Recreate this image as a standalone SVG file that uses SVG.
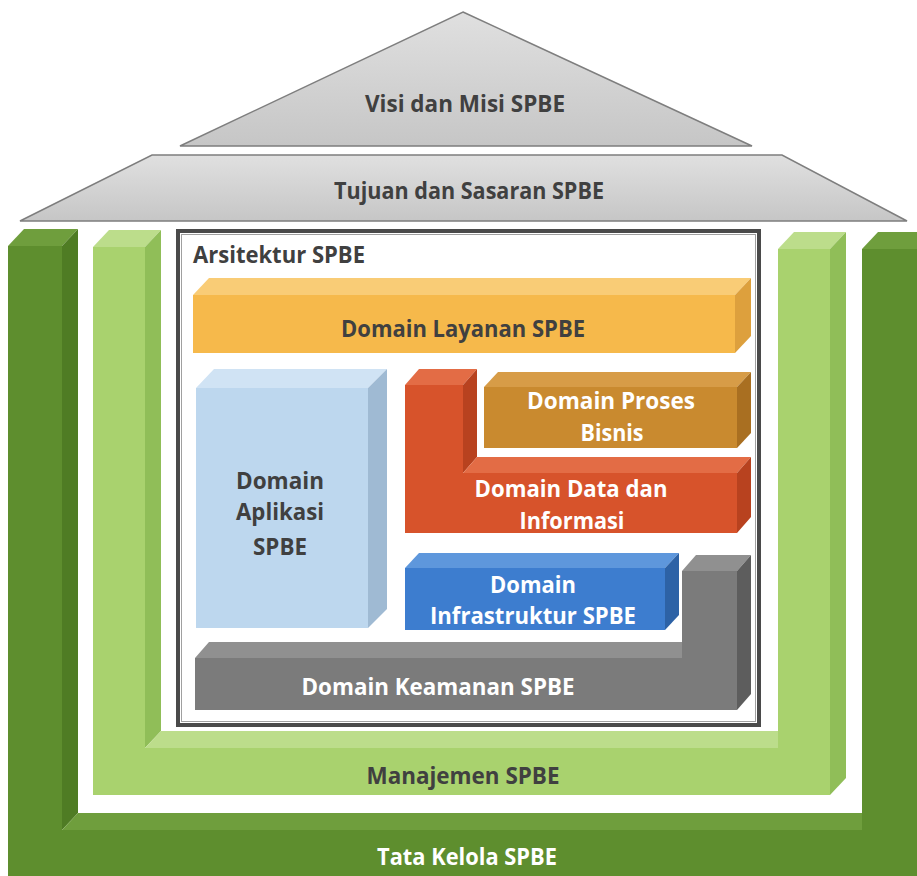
<svg xmlns="http://www.w3.org/2000/svg" width="917" height="876" viewBox="0 0 917 876">
<defs>
<linearGradient id="gRoof" x1="0" y1="0" x2="0" y2="1">
<stop offset="0" stop-color="#E0E0E0"/><stop offset="1" stop-color="#C6C6C6"/>
</linearGradient>
<style>
.t{font-family:"Open Sans",Lato,"Liberation Sans",sans-serif;font-weight:bold;text-anchor:middle;font-size:22.5px}
.dk{fill:#404040}
.wh{fill:#FFFFFF}
.roof{fill:url(#gRoof);stroke:#7E7E7E;stroke-width:1.5}
.dgF{fill:#5E8E2E}.dgS{fill:#4F7C24}.dgT{fill:#6F9E3D}
.lgF{fill:#A9D26E}.lgS{fill:#90BE58}.lgT{fill:#BCDD8B}
.orF{fill:#F6B94B}.orS{fill:#DDA03D}.orT{fill:#F9CC76}
.blF{fill:#BDD7EE}.blS{fill:#9FBAD3}.blT{fill:#D0E3F4}
.rdF{fill:#D7532B}.rdS{fill:#B8421F}.rdT{fill:#E36C45}
.prF{fill:#C98A2F}.prS{fill:#A96F21}.prT{fill:#D79C47}
.ibF{fill:#3D7DCF}.ibS{fill:#2D62A6}.ibT{fill:#5E97DC}
.gyF{fill:#7B7B7B}.gyS{fill:#5D5D5D}.gyT{fill:#909090}
</style>
</defs>
<rect width="917" height="876" fill="#FFFFFF"/>

<g id="tata-kelola">
<polygon class="dgF" points="8,246 8,876 917,876 917,249 862,249 862,830 62,830 62,246"/>
<polygon class="dgT" points="8,246 24,229 78,229 62,246"/>
<polygon class="dgS" points="62,246 78,229 78,813 62,830"/>
<polygon class="dgT" points="62,830 78,813 862,813 862,830"/>
<polygon class="dgT" points="862,249 878,232 917,232 917,249"/>
<text class="t wh" x="467" y="865" textLength="180" lengthAdjust="spacingAndGlyphs">Tata Kelola SPBE</text>
</g>

<g id="manajemen">
<polygon class="lgF" points="93,247 93,795 830,795 830,249 778,249 778,748 145,748 145,247"/>
<polygon class="lgT" points="93,247 109,230 161,230 145,247"/>
<polygon class="lgS" points="145,247 161,230 161,731 145,748"/>
<polygon class="lgT" points="145,748 161,731 778,731 778,748"/>
<polygon class="lgT" points="778,249 794,232 846,232 830,249"/>
<polygon class="lgS" points="830,249 846,232 846,778 830,795"/>
<text class="t dk" x="463" y="784" textLength="193" lengthAdjust="spacingAndGlyphs">Manajemen SPBE</text>
</g>

<g id="visi-misi">
<polygon class="roof" points="463,12 752,146 180,146"/>
<text class="t dk" x="465" y="112" textLength="200" lengthAdjust="spacingAndGlyphs">Visi dan Misi SPBE</text>
</g>

<g id="tujuan-sasaran">
<polygon class="roof" points="152,155 782,155 907,221 20,221"/>
<text class="t dk" x="469" y="199" textLength="270" lengthAdjust="spacingAndGlyphs">Tujuan dan Sasaran SPBE</text>
</g>

<g id="arsitektur">
<rect x="178" y="231" width="581" height="494" fill="#FFFFFF" stroke="#4A4A4A" stroke-width="4"/>
<rect x="181.5" y="234.5" width="574" height="487" fill="none" stroke="#A0A0A0" stroke-width="1"/>
<text class="t dk" x="193" y="263" style="text-anchor:start" textLength="172" lengthAdjust="spacingAndGlyphs">Arsitektur SPBE</text>
</g>

<g id="domain-layanan">
<polygon class="orT" points="193,295 209,278 751,278 735,295"/>
<polygon class="orS" points="735,295 751,278 751,336 735,353"/>
<rect class="orF" x="193" y="295" width="542" height="58"/>
<text class="t dk" x="463" y="337" textLength="244" lengthAdjust="spacingAndGlyphs">Domain Layanan SPBE</text>
</g>

<g id="domain-aplikasi">
<polygon class="blT" points="196,388 214,369 387,369 368,388"/>
<polygon class="blS" points="368,388 387,369 387,609 368,628"/>
<rect class="blF" x="196" y="388" width="172" height="240"/>
<text class="t dk" x="280" y="489" textLength="88" lengthAdjust="spacingAndGlyphs">Domain</text>
<text class="t dk" x="280" y="520" textLength="88" lengthAdjust="spacingAndGlyphs">Aplikasi</text>
<text class="t dk" x="280" y="555" textLength="54" lengthAdjust="spacingAndGlyphs">SPBE</text>
</g>

<g id="domain-proses">
<polygon class="prT" points="484,387 498,372 751,372 737,387"/>
<polygon class="prS" points="737,387 751,372 751,433 737,448"/>
<rect class="prF" x="484" y="387" width="253" height="61"/>
<text class="t wh" x="611" y="409" textLength="168" lengthAdjust="spacingAndGlyphs">Domain Proses</text>
<text class="t wh" x="612" y="441" textLength="63" lengthAdjust="spacingAndGlyphs">Bisnis</text>
</g>

<g id="domain-data">
<polygon class="rdT" points="405,385 419,369 477,369 463,385"/>
<polygon class="rdS" points="463,385 477,369 477,457 463,473"/>
<polygon class="rdT" points="463,473 477,457 751,457 737,473"/>
<polygon class="rdS" points="737,473 751,457 751,517 737,533"/>
<polygon class="rdF" points="405,385 463,385 463,473 737,473 737,533 405,533"/>
<text class="t wh" x="571" y="497" textLength="193" lengthAdjust="spacingAndGlyphs">Domain Data dan</text>
<text class="t wh" x="572" y="529" textLength="105" lengthAdjust="spacingAndGlyphs">Informasi</text>
</g>

<g id="domain-infrastruktur">
<polygon class="ibT" points="405,568 419,553 679,553 665,568"/>
<polygon class="ibS" points="665,568 679,553 679,615 665,630"/>
<rect class="ibF" x="405" y="568" width="260" height="62"/>
<text class="t wh" x="533" y="593" textLength="86" lengthAdjust="spacingAndGlyphs">Domain</text>
<text class="t wh" x="533" y="624" textLength="206" lengthAdjust="spacingAndGlyphs">Infrastruktur SPBE</text>
</g>

<g id="domain-keamanan">
<polygon class="gyT" points="682,571 696,555 751,555 737,571"/>
<polygon class="gyS" points="737,571 751,555 751,694 737,710"/>
<polygon class="gyT" points="195,658 209,642 696,642 682,658"/>
<polygon class="gyF" points="195,658 682,658 682,571 737,571 737,710 195,710"/>
<text class="t wh" x="438" y="695" textLength="273" lengthAdjust="spacingAndGlyphs">Domain Keamanan SPBE</text>
</g>
</svg>
